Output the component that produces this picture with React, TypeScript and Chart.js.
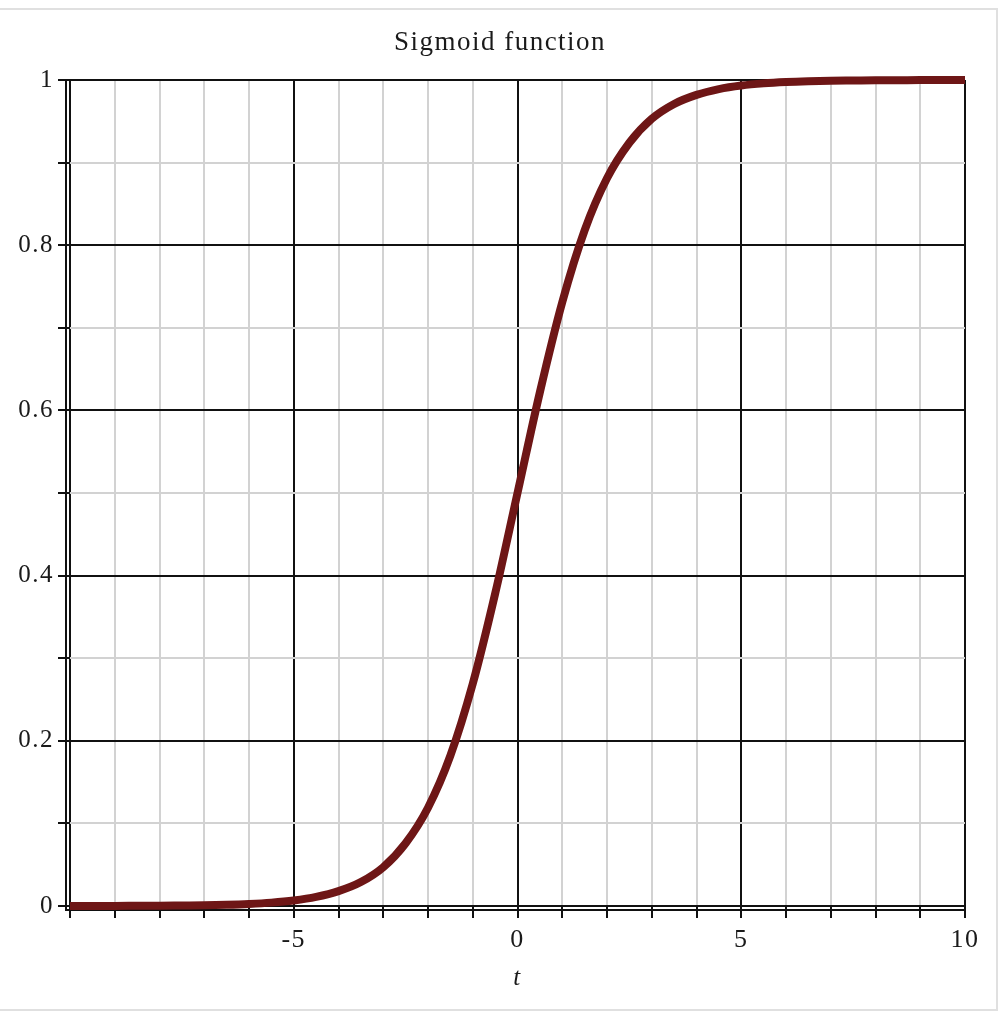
import React, { useEffect, useRef } from "react";
import { Chart, registerables } from "chart.js";

Chart.register(...registerables);

const chartTitle = "Sigmoid function";
const xAxisTitle = "t";
const tValues = [
  -10, -9.5, -9, -8.5, -8, -7.5, -7, -6.5, -6, -5.5, -5, -4.5, -4, -3.5, -3, -2.5, -2, -1.5, -1, -0.5,
  0, 0.5, 1, 1.5, 2, 2.5, 3, 3.5, 4, 4.5, 5, 5.5, 6, 6.5, 7, 7.5, 8, 8.5, 9, 9.5, 10,
];
const sigmaValues = [
  0.00005, 0.00007, 0.0001, 0.0002, 0.0003, 0.0006, 0.0009, 0.0015, 0.0025, 0.0041,
  0.0067, 0.011, 0.018, 0.029, 0.047, 0.076, 0.119, 0.182, 0.269, 0.378,
  0.5, 0.622, 0.731, 0.818, 0.881, 0.924, 0.953, 0.971, 0.982, 0.989,
  0.9933, 0.9959, 0.9975, 0.9985, 0.9991, 0.9994, 0.9997, 0.9998, 0.9999, 0.99993, 0.99995,
];
const xLabelTicks = [-5, 0, 5, 10];
const yLabelTicks = [0, 0.2, 0.4, 0.6, 0.8, 1];

const SERIF = "'Liberation Serif', 'DejaVu Serif', serif";
const MAJOR = "#111111";
const MINOR = "#d2d2d2";

const axisLinesPlugin = {
  id: "axisLines",
  beforeDraw(chart: any) {
    (chart.ctx as any).letterSpacing = "1.5px";
  },
  beforeDatasetsDraw(chart: any) {
    const { ctx, chartArea } = chart;
    (ctx as any).letterSpacing = "0px";
    const { left, right, top, bottom } = chartArea;
    ctx.save();
    ctx.strokeStyle = MAJOR;
    ctx.lineWidth = 2;
    ctx.beginPath();
    ctx.moveTo(left - 4, top);
    ctx.lineTo(left - 4, bottom + 4);
    ctx.lineTo(right, bottom + 4);
    ctx.stroke();
    ctx.restore();
  },
  afterDraw(chart: any) {
    (chart.ctx as any).letterSpacing = "0px";
  },
};

export default function App() {
  const ref = useRef<HTMLCanvasElement | null>(null);

  useEffect(() => {
    if (!ref.current) return;
    const points = tValues.map((t, i) => ({ x: t, y: sigmaValues[i] }));
    const chart = new Chart(ref.current, {
      type: "line",
      data: {
        datasets: [
          {
            data: points,
            borderColor: "#6e1616",
            borderWidth: 8,
            pointRadius: 0,
            cubicInterpolationMode: "monotone",
            clip: 12,
            fill: false,
            yAxisID: "y",
          } as any,
        ],
      },
      options: {
        animation: false,
        responsive: false,
        layout: { padding: { left: 0, right: 0, top: 0, bottom: 9 } },
        plugins: {
          legend: { display: false },
          tooltip: { enabled: false },
          title: {
            display: true,
            text: chartTitle,
            color: "#1a1a1a",
            font: { family: SERIF, size: 27, weight: "normal" },
            padding: { top: 17, bottom: 20.6 },
          },
        },
        scales: {
          x: {
            type: "linear",
            min: -10,
            max: 10,
            afterFit(scale: any) {
              scale.height = 90;
            },
            border: { display: false },
            grid: {
              color: (c: any) => (Math.round(c.tick.value) % 5 === 0 ? MAJOR : MINOR),
              lineWidth: 2,
              drawTicks: true,
              tickLength: 12,
              tickColor: MAJOR,
              tickWidth: 2,
            },
            ticks: {
              stepSize: 1,
              autoSkip: false,
              maxRotation: 0,
              padding: 7,
              color: "#1a1a1a",
              font: { family: SERIF, size: 26 },
              callback: (v: any) => {
                const n = Math.round(Number(v));
                return xLabelTicks.includes(n) ? String(n) : "";
              },
            },
            title: {
              display: true,
              text: xAxisTitle,
              color: "#1a1a1a",
              font: { family: SERIF, size: 25, style: "italic" },
              padding: { top: 0, bottom: 3 },
            },
          },
          y: {
            type: "linear",
            position: "left",
            min: 0,
            max: 1,
            afterFit(scale: any) {
              scale.width = 70;
            },
            border: { display: false },
            grid: {
              color: (c: any) => (Math.round(c.tick.value * 10) % 2 === 0 ? MAJOR : MINOR),
              lineWidth: 2,
              drawTicks: true,
              tickLength: 12,
              tickColor: MAJOR,
              tickWidth: 2,
            },
            ticks: {
              stepSize: 0.1,
              autoSkip: false,
              padding: 4,
              color: "#1a1a1a",
              font: { family: SERIF, size: 25 },
              callback: (v: any) => {
                const n = Math.round(Number(v) * 10) / 10;
                return yLabelTicks.some((l) => Math.abs(l - n) < 1e-9) ? String(n) : "";
              },
            },
          },
          yRight: {
            type: "linear",
            position: "right",
            min: 0,
            max: 1,
            afterFit(scale: any) {
              scale.width = 35;
            },
            border: { display: false },
            grid: { display: false, drawTicks: false },
            ticks: { display: false },
          },
        },
      },
      plugins: [axisLinesPlugin],
    });
    return () => chart.destroy();
  }, []);

  return (
    <div
      style={{
        position: "absolute",
        left: 0,
        top: 8,
        width: 998,
        height: 1003,
        boxSizing: "border-box",
        borderTop: "2px solid #e0e0e0",
        borderRight: "2px solid #e0e0e0",
        borderBottom: "2px solid #e0e0e0",
        background: "#ffffff",
      }}
    >
      <canvas
        ref={ref}
        width={1000}
        height={995}
        style={{ position: "absolute", left: 0, top: 0, width: 1000, height: 995 }}
      />
    </div>
  );
}
